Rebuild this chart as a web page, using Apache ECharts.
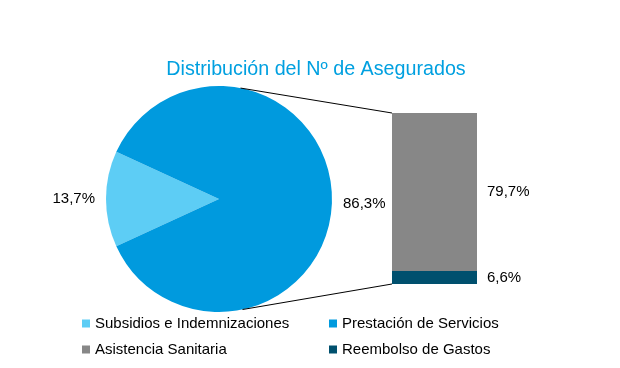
<!DOCTYPE html>
<html>
<head>
<meta charset="utf-8">
<script src="https://cdn.jsdelivr.net/npm/echarts@6/dist/echarts.min.js"></script>
<style>html,body{margin:0;padding:0;background:#fff;}#c{width:620px;height:368px;}</style>
</head>
<body>
<div id="c"></div>
<script>
const titleText = 'Distribución del Nº de Asegurados';
const pieNames = ['Subsidios e Indemnizaciones', 'Prestación de Servicios'];
const pieValues = [13.7, 86.3];
const barNames = ['Asistencia Sanitaria', 'Reembolso de Gastos'];
const barValues = [79.7, 6.6];
const colors = {
  'Subsidios e Indemnizaciones': '#5dcdf5',
  'Prestación de Servicios': '#009ade',
  'Asistencia Sanitaria': '#878787',
  'Reembolso de Gastos': '#00506e'
};
const fmt = v => v.toFixed(1).replace('.', ',') + '%';

const pieC = [219, 199], pieR = 113;
const grid = {left: 392, top: 113, width: 85, height: 171};
const startAng = 180 + pieValues[0] / (pieValues[0] + pieValues[1]) * 180;

const chart = echarts.init(document.getElementById('c'), null, {renderer: 'canvas'});
const font = 'Liberation Sans, Arial, sans-serif';
const lblStyle = {color: '#000', fontSize: 15, fontFamily: font};

const option = {
  animation: false,
  backgroundColor: '#fff',
  title: {
    text: titleText, left: 311, top: 55, textAlign: 'center',
    textStyle: {color: '#00a0e0', fontSize: 19.7, fontWeight: 'normal', fontFamily: font}
  },
  legend: [
    {data: [pieNames[0], barNames[0]], orient: 'vertical', left: 77, top: 311, itemWidth: 8, itemHeight: 8, itemGap: 11, icon: 'rect',
     textStyle: {fontSize: 15, color: '#000', fontFamily: font}},
    {data: [pieNames[1], barNames[1]], orient: 'vertical', left: 324, top: 311, itemWidth: 8, itemHeight: 8, itemGap: 11, icon: 'rect',
     textStyle: {fontSize: 15, color: '#000', fontFamily: font}}
  ],
  grid: grid,
  xAxis: {type: 'category', data: [''], show: false},
  yAxis: {type: 'value', min: 0, max: barValues[0] + barValues[1], show: false},
  series: [
    {
      type: 'pie', name: 'pie', center: pieC, radius: [0, pieR],
      startAngle: startAng, clockwise: true,
      data: pieNames.map((n, i) => ({name: n, value: pieValues[i], itemStyle: {color: colors[n]},
        label: i === 1 ? {offset: [0, 5]} : {}})),
      label: Object.assign({show: true, position: 'outside', formatter: p => fmt(p.value), distanceToLabelLine: 5}, lblStyle),
      labelLine: {show: false, length: 3, length2: 3},
      emphasis: {disabled: true}
    },
    {
      type: 'bar', name: barNames[1], stack: 's', barWidth: '100%',
      data: [barValues[1]], itemStyle: {color: colors[barNames[1]]},
      label: Object.assign({show: true, position: 'right', distance: 10, formatter: p => fmt(p.value)}, lblStyle)
    },
    {
      type: 'bar', name: barNames[0], stack: 's', barWidth: '100%',
      data: [barValues[0]], itemStyle: {color: colors[barNames[0]]},
      label: Object.assign({show: true, position: 'right', distance: 10, formatter: p => fmt(p.value)}, lblStyle)
    }
  ]
};
chart.setOption(option);

// connector lines from the pie edge to the bar corners
const total = barValues[0] + barValues[1];
const topPt = chart.convertToPixel({gridIndex: 0}, [0, total]);
const botPt = chart.convertToPixel({gridIndex: 0}, [0, 0]);
const barLeft = grid.left;
const a1 = 79 * Math.PI / 180, a2 = -78 * Math.PI / 180;
const p1 = [pieC[0] + pieR * Math.cos(a1), pieC[1] - pieR * Math.sin(a1)];
const p2 = [pieC[0] + pieR * Math.cos(a2), pieC[1] - pieR * Math.sin(a2)];
chart.setOption({
  graphic: [
    {type: 'line', shape: {x1: p1[0], y1: p1[1], x2: barLeft, y2: topPt[1]}, style: {stroke: '#000', lineWidth: 1}, z: 10},
    {type: 'line', shape: {x1: p2[0], y1: p2[1], x2: barLeft, y2: botPt[1]}, style: {stroke: '#000', lineWidth: 1}, z: 10}
  ]
});
</script>
</body>
</html>
